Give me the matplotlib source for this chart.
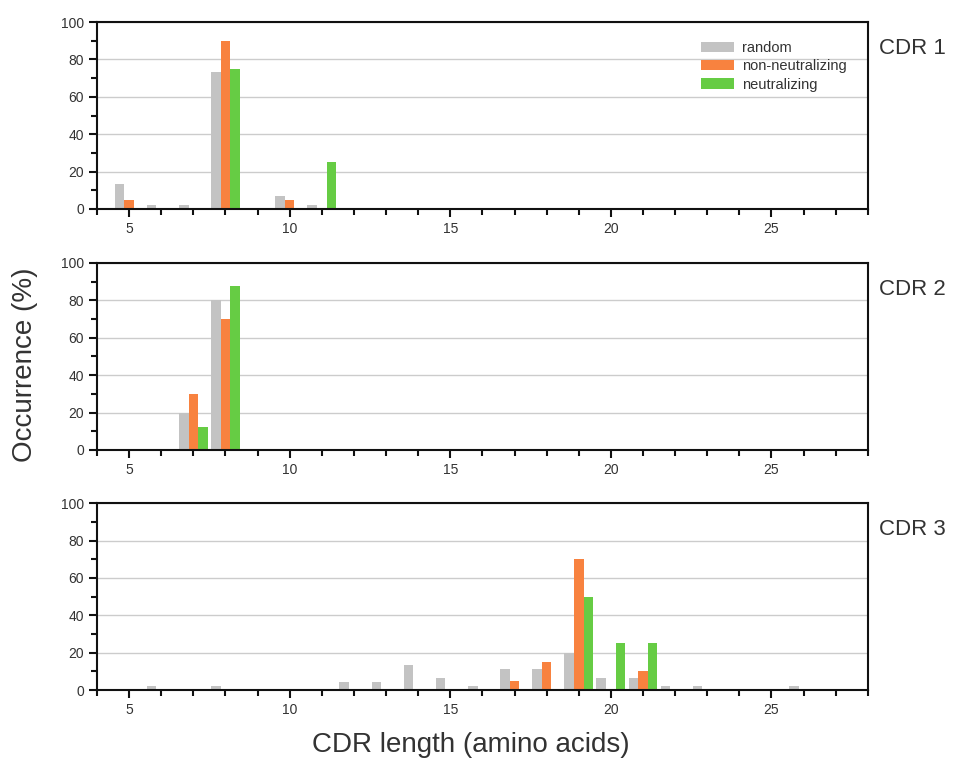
import matplotlib.pyplot as plt
from matplotlib.ticker import MultipleLocator

plt.rcParams['font.family'] = ['Liberation Sans', 'DejaVu Sans']

# CDR lengths and occurrence (%) per group
cdr1_len = [5, 6, 7, 8, 10, 11]
cdr1_random = [13.3, 2.2, 2.2, 73.3, 6.7, 2.2]
cdr1_nonneut = [5, 0, 0, 90, 5, 0]
cdr1_neut = [0, 0, 0, 75, 0, 25]

cdr2_len = [7, 8]
cdr2_random = [20, 80]
cdr2_nonneut = [30, 70]
cdr2_neut = [12.5, 87.5]

cdr3_len = [6, 8, 12, 13, 14, 15, 16, 17, 18, 19, 20, 21, 22, 23, 26]
cdr3_random = [2.2, 2.2, 4.4, 4.4, 13.3, 6.7, 2.2, 11.1, 11.1, 20, 6.7, 6.7, 2.2, 2.2, 2.2]
cdr3_nonneut = [0, 0, 0, 0, 0, 0, 0, 5, 15, 70, 0, 10, 0, 0, 0]
cdr3_neut = [0, 0, 0, 0, 0, 0, 0, 0, 0, 50, 25, 25, 0, 0, 0]

panels = [
    ("CDR 1", cdr1_len, cdr1_random, cdr1_nonneut, cdr1_neut),
    ("CDR 2", cdr2_len, cdr2_random, cdr2_nonneut, cdr2_neut),
    ("CDR 3", cdr3_len, cdr3_random, cdr3_nonneut, cdr3_neut),
]

labels = ["random", "non-neutralizing", "neutralizing"]
colors = ["#c3c3c3", "#f8823f", "#66cc44"]
text_col = "#333333"
w = 0.3

fig = plt.figure(figsize=(9.6, 7.6), dpi=100)
bottoms = [0.725, 0.408, 0.092]

for i, (name, lens, r, nn, n) in enumerate(panels):
    ax = fig.add_axes([0.101, bottoms[i], 0.803, 0.246])
    for k, (vals, c, lab) in enumerate(zip([r, nn, n], colors, labels)):
        xs = [x + (k - 1) * w for x in lens]
        ax.bar(xs, vals, width=w, color=c, label=lab, zorder=2)
    ax.set_xlim(4, 28)
    ax.set_ylim(0, 100)
    ax.xaxis.set_major_locator(MultipleLocator(5))
    ax.xaxis.set_minor_locator(MultipleLocator(1))
    ax.yaxis.set_major_locator(MultipleLocator(20))
    ax.yaxis.set_minor_locator(MultipleLocator(10))
    ax.grid(axis='y', which='major', color='#cccccc', lw=1, zorder=0)
    ax.tick_params(which='both', direction='out', colors='#111111',
                   labelcolor=text_col, labelsize=10, width=1.5)
    ax.tick_params(which='major', length=6)
    ax.tick_params(which='minor', length=4)
    for s in ax.spines.values():
        s.set_linewidth(1.5)
        s.set_color('#111111')
    ax.text(1.014, 0.86, name, transform=ax.transAxes, fontsize=16,
            color=text_col, ha='left', va='center')
    if i == 0:
        ax.legend(loc='upper right', bbox_to_anchor=(0.99, 0.97), frameon=False,
                  fontsize=10.5, handlelength=2.2, handleheight=0.7,
                  labelspacing=0.3, handletextpad=0.6, labelcolor=text_col)

fig.text(0.026, 0.52, "Occurrence (%)", rotation=90, fontsize=20,
         color=text_col, ha='center', va='center')
fig.text(0.49, 0.02, "CDR length (amino acids)", fontsize=20,
         color=text_col, ha='center', va='center')

fig.savefig("out.png", dpi=100)
